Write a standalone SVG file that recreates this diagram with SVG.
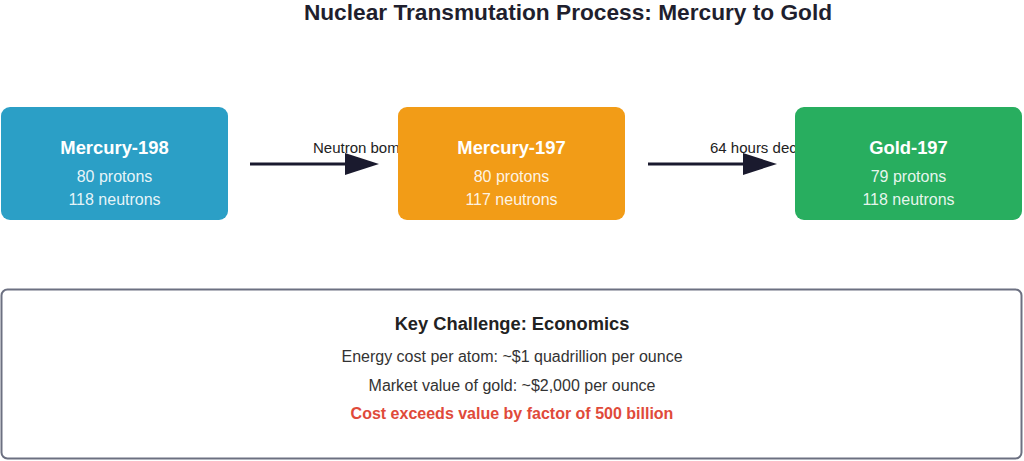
<svg xmlns="http://www.w3.org/2000/svg" width="1024" height="461" viewBox="0 0 1024 461">
<defs>
<style>
text{font-family:"Liberation Sans",Arial,sans-serif}
.title{font-size:22.7px;font-weight:bold;fill:#1f1f2e;text-anchor:middle}
.nt{font-size:18.4px;font-weight:bold;fill:#fff;text-anchor:middle}
.ns{font-size:16px;fill:#fff;fill-opacity:0.9;text-anchor:middle}
.lbl{font-size:15px;fill:#222}
.conn{stroke:#1a1a2e;stroke-width:3;fill:none}
.bt{font-size:18.3px;font-weight:bold;fill:#222;text-anchor:middle}
.bs{font-size:16px;fill:#333;text-anchor:middle}
.br{font-size:16px;font-weight:bold;fill:#e04a3a;text-anchor:middle}
</style>
</defs>
<rect width="1024" height="461" fill="#fff"/>
<text class="title" x="568" y="20">Nuclear Transmutation Process: Mercury to Gold</text>
<g id="connectors">
<text class="lbl" x="313" y="153">Neutron bombardment</text>
<text class="lbl" x="710" y="153">64 hours decay</text>
<line class="conn" x1="250" y1="164" x2="346" y2="164"/>
<path d="M345,153 L379,164 L345,175 Z" fill="#1a1a2e"/>
<line class="conn" x1="648" y1="164" x2="744" y2="164"/>
<path d="M743,153 L777,164 L743,175 Z" fill="#1a1a2e"/>
</g>
<g id="mercury198">
<rect x="1" y="107" width="227" height="113" rx="9" fill="#2b9fc6"/>
<text class="nt" x="114.5" y="154">Mercury-198</text>
<text class="ns" x="114.5" y="182">80 protons</text>
<text class="ns" x="114.5" y="205">118 neutrons</text>
</g>
<g id="mercury197">
<rect x="398" y="107" width="227" height="113" rx="9" fill="#f29c17"/>
<text class="nt" x="511.5" y="154">Mercury-197</text>
<text class="ns" x="511.5" y="182">80 protons</text>
<text class="ns" x="511.5" y="205">117 neutrons</text>
</g>
<g id="gold197">
<rect x="795" y="107" width="227" height="113" rx="9" fill="#28ae5f"/>
<text class="nt" x="908.5" y="154">Gold-197</text>
<text class="ns" x="908.5" y="182">79 protons</text>
<text class="ns" x="908.5" y="205">118 neutrons</text>
</g>
<g id="challenge">
<rect x="1.5" y="289.5" width="1020" height="169" rx="6" fill="#fff" stroke="#6c7081" stroke-width="2"/>
<text class="bt" x="512" y="330">Key Challenge: Economics</text>
<text class="bs" x="512" y="362">Energy cost per atom: ~$1 quadrillion per ounce</text>
<text class="bs" x="512" y="391">Market value of gold: ~$2,000 per ounce</text>
<text class="br" x="512" y="419">Cost exceeds value by factor of 500 billion</text>
</g>
</svg>
